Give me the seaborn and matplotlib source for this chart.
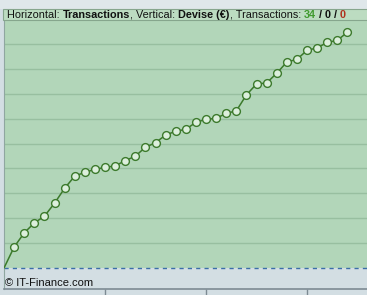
import matplotlib
matplotlib.use("Agg")
import matplotlib.pyplot as plt
import seaborn as sns
import pandas as pd
from matplotlib.patches import Rectangle
from matplotlib.text import Annotation

transactions = list(range(0, 35))
devise = [0, 0.84, 1.41, 1.81, 2.08, 2.60, 3.20, 3.69, 3.84, 3.96, 4.04, 4.10,
          4.31, 4.49, 4.85, 5.03, 5.34, 5.49, 5.57, 5.85, 5.97, 6.01, 6.21,
          6.31, 6.95, 7.39, 7.43, 7.82, 8.27, 8.38, 8.74, 8.84, 9.06, 9.14, 9.47]
x_ticks = [10, 20, 30]
title_parts = [("Horizontal: ", "normal", "#111111"),
               ("Transactions", "bold", "#111111"),
               (", Vertical: ", "normal", "#111111"),
               ("Devise (€)", "bold", "#111111"),
               (", Transactions: ", "normal", "#111111"),
               ("34", "bold", "#3f9a2e"),
               (" / ", "bold", "#111111"),
               ("0", "bold", "#111111"),
               (" / ", "bold", "#111111"),
               ("0", "bold", "#b0301e")]
footer = "© IT-Finance.com"

df = pd.DataFrame({"x": transactions, "y": devise})

sns.set_style("white")
plt.rcParams["font.family"] = ["Liberation Sans", "DejaVu Sans"]

W, H = 367, 295
fig = plt.figure(figsize=(W / 100, H / 100), dpi=100)
fig.patch.set_facecolor("#d3dee3")
ax = fig.add_axes([4 / W, (H - 289) / H, (W - 4) / W, (289 - 9) / H])
ax.set_facecolor("#d3dee3")

unit = 24.9
ymin = -(289 - 268) / unit
ymax = (268 - 9) / unit
ax.set_ylim(ymin, ymax)
ax.set_xlim(0, (W - 4) / 10.1)

ax.axhspan(0, ymax, color="#b2d6b9", zorder=0, lw=0)
for g in range(1, 11):
    ax.axhline(g, color="#98bfa0", lw=1.0, zorder=1)
ax.axhline(0, color="#3b6fa8", lw=1.0, ls=(0, (3, 3)), zorder=2)

sns.lineplot(data=df, x="x", y="y", ax=ax, color="#3c7a2c", lw=1.1, zorder=3)
ax.plot(df["x"][1:], df["y"][1:], ls="none", marker="o", ms=5.6,
        mfc="#dcefdc", mec="#3c7a2c", mew=1.0, zorder=4)

ax.set_xticks(x_ticks)
ax.set_xticklabels([])
ax.set_yticks([])
ax.set_xlabel("")
ax.set_ylabel("")
ax.tick_params(axis="x", direction="out", length=4, width=1, color="#7d8b93", bottom=True)
for s in ["top", "right"]:
    ax.spines[s].set_visible(False)
ax.spines["bottom"].set_color("#7d8b93")
ax.spines["bottom"].set_linewidth(1.2)
ax.spines["left"].set_color("#8fa7a0")
ax.spines["left"].set_linewidth(0.8)

# top strip and title box
fig.add_artist(Rectangle((0, (H - 9) / H), 1, 9 / H, transform=fig.transFigure,
                         facecolor="#dfe7ea", edgecolor="none", zorder=5))
fig.add_artist(Rectangle((3 / W, (H - 20) / H), (W - 2) / W, 11 / H,
                         transform=fig.transFigure, facecolor="#bcdcc1",
                         edgecolor="#86a68d", lw=0.8, zorder=5))

fs = 7.8
anchor = fig.text(7 / W, (H - 14.5) / H, title_parts[0][0], fontsize=fs,
                  fontweight=title_parts[0][1], color=title_parts[0][2],
                  va="center", ha="left", zorder=6)
for txt, wt, col in title_parts[1:]:
    ann = Annotation(txt, xy=(1, 0.5), xycoords=anchor, fontsize=fs,
                     fontweight=wt, color=col, va="center", ha="left",
                     annotation_clip=False, zorder=6)
    fig.add_artist(ann)
    anchor = ann

fig.text(5 / W, (H - 283) / H, footer, fontsize=8.0, color="#111111",
         va="center", ha="left", zorder=6)

fig.savefig("out.png", dpi=100, facecolor=fig.get_facecolor())
